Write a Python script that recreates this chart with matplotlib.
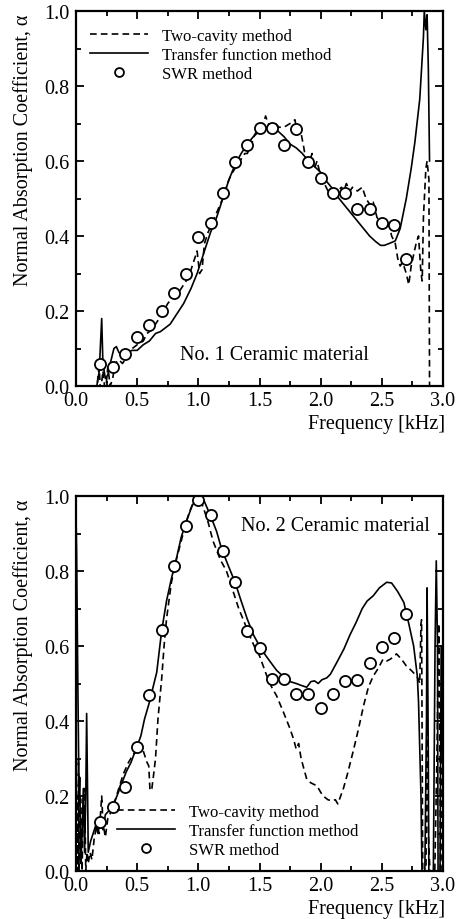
import numpy as np
import matplotlib
matplotlib.use("Agg")
import matplotlib.pyplot as plt
from matplotlib.ticker import MultipleLocator, FormatStrFormatter

plt.rcParams["font.family"] = ["Liberation Serif", "DejaVu Serif"]
plt.rcParams["mathtext.fontset"] = "stix"

# ----------------------------------------------------------------------
# No. 1 ceramic material
# ----------------------------------------------------------------------
swr1_f = [0.2, 0.3, 0.4, 0.5, 0.6, 0.7, 0.8, 0.9, 1.0, 1.1, 1.2, 1.3, 1.4,
          1.5, 1.6, 1.7, 1.8, 1.9, 2.0, 2.1, 2.2, 2.3, 2.4, 2.5, 2.6, 2.7]
swr1_a = [0.059, 0.05, 0.085, 0.131, 0.163, 0.20, 0.247, 0.30, 0.398, 0.434,
          0.514, 0.598, 0.643, 0.687, 0.687, 0.643, 0.686, 0.598, 0.556,
          0.514, 0.514, 0.472, 0.472, 0.435, 0.43, 0.339]

tf1_f = [0.17, 0.19, 0.21, 0.22, 0.24, 0.26, 0.28, 0.31, 0.33, 0.35, 0.38,
         0.42, 0.46, 0.50, 0.55, 0.60, 0.65, 0.69, 0.73, 0.77, 0.82, 0.88,
         0.94, 0.99, 1.04, 1.10, 1.15, 1.20, 1.25, 1.30, 1.35, 1.40, 1.45,
         1.50, 1.55, 1.60, 1.65, 1.70, 1.75, 1.80, 1.85, 1.90, 1.95, 2.00,
         2.05, 2.10, 2.15, 2.20, 2.25, 2.30, 2.35, 2.40, 2.45, 2.49, 2.52,
         2.56, 2.61, 2.65, 2.70, 2.74, 2.77, 2.81, 2.84, 2.847, 2.86, 2.87,
         2.88, 2.89]
tf1_a = [0.0, 0.04, 0.18, 0.06, 0.02, 0.03, 0.06, 0.10, 0.105, 0.09, 0.08,
         0.09, 0.095, 0.095, 0.11, 0.12, 0.14, 0.145, 0.155, 0.165, 0.19, 0.22,
         0.26, 0.30, 0.35, 0.41, 0.45, 0.50, 0.55, 0.59, 0.62, 0.645, 0.665,
         0.68, 0.69, 0.69, 0.68, 0.665, 0.645, 0.635, 0.62, 0.60, 0.585, 0.57,
         0.545, 0.525, 0.50, 0.48, 0.46, 0.44, 0.42, 0.40, 0.385, 0.375, 0.375,
         0.38, 0.387, 0.42, 0.50, 0.58, 0.65, 0.765, 0.93, 1.0, 0.95, 0.99,
         0.85, 0.60]

tc1_f = [0.17, 0.18, 0.19, 0.20, 0.22, 0.24, 0.26, 0.28, 0.30, 0.32, 0.35,
         0.38, 0.40, 0.43, 0.46, 0.50, 0.55, 0.58, 0.62, 0.66, 0.70, 0.75,
         0.80, 0.84, 0.88, 0.92, 0.96, 0.99, 1.01, 1.03, 1.05, 1.08, 1.12,
         1.16, 1.20, 1.25, 1.28, 1.30, 1.34, 1.38, 1.40, 1.43, 1.46, 1.50,
         1.53, 1.55, 1.57, 1.60, 1.63, 1.66, 1.70, 1.75, 1.79, 1.81, 1.83,
         1.86, 1.88, 1.91, 1.93, 1.95, 1.97, 2.00, 2.03, 2.06, 2.10, 2.14,
         2.17, 2.19, 2.21, 2.24, 2.26, 2.30, 2.34, 2.37, 2.41, 2.43, 2.46,
         2.50, 2.53, 2.56, 2.58, 2.61, 2.63, 2.65, 2.67, 2.70, 2.72, 2.74,
         2.76, 2.78, 2.80, 2.82, 2.83, 2.84, 2.86, 2.87, 2.885, 2.89, 2.895]
tc1_a = [-0.02, 0.03, 0.05, -0.02, 0.04, -0.02, 0.05, 0.0, 0.02, 0.06, 0.07,
         0.06, 0.07, 0.08, 0.10, 0.11, 0.12, 0.14, 0.15, 0.17, 0.19, 0.22,
         0.24, 0.25, 0.27, 0.29, 0.33, 0.36, 0.30, 0.31, 0.38, 0.41, 0.44,
         0.47, 0.50, 0.55, 0.57, 0.58, 0.60, 0.62, 0.62, 0.64, 0.67, 0.69,
         0.70, 0.72, 0.70, 0.69, 0.70, 0.69, 0.69, 0.70, 0.71, 0.67, 0.69,
         0.64, 0.60, 0.60, 0.62, 0.58, 0.60, 0.56, 0.54, 0.52, 0.51, 0.52,
         0.53, 0.52, 0.54, 0.52, 0.53, 0.52, 0.53, 0.50, 0.48, 0.49, 0.45,
         0.43, 0.44, 0.43, 0.40, 0.38, 0.34, 0.32, 0.33, 0.30, 0.27, 0.32,
         0.35, 0.38, 0.40, 0.30, 0.28, 0.45, 0.58, 0.60, 0.55, 0.0, -0.05]

# ----------------------------------------------------------------------
# No. 2 ceramic material
# ----------------------------------------------------------------------
swr2_f = [0.2, 0.3, 0.4, 0.5, 0.6, 0.7, 0.8, 0.9, 1.0, 1.1, 1.2, 1.3, 1.4,
          1.5, 1.6, 1.7, 1.8, 1.9, 2.0, 2.1, 2.2, 2.3, 2.4, 2.5, 2.6, 2.7]
swr2_a = [0.131, 0.171, 0.223, 0.33, 0.47, 0.643, 0.814, 0.919, 0.99, 0.949,
          0.854, 0.771, 0.641, 0.596, 0.512, 0.512, 0.472, 0.472, 0.434,
          0.472, 0.507, 0.51, 0.556, 0.598, 0.621, 0.685]

tf2_f = [0.0, 0.005, 0.015, 0.025, 0.03, 0.04, 0.05, 0.06, 0.07, 0.08, 0.087,
         0.095, 0.10, 0.12, 0.14, 0.16, 0.18, 0.20, 0.22, 0.24, 0.28, 0.33,
         0.37, 0.41, 0.45, 0.49, 0.53, 0.56, 0.60, 0.62, 0.66, 0.70, 0.74,
         0.78, 0.82, 0.86, 0.90, 0.95, 1.00, 1.05, 1.10, 1.15, 1.19, 1.25,
         1.30, 1.35, 1.40, 1.45, 1.50, 1.55, 1.59, 1.64, 1.69, 1.75, 1.80,
         1.84, 1.886, 1.92, 1.95, 1.98, 2.01, 2.05, 2.08, 2.13, 2.19, 2.24,
         2.29, 2.34, 2.38, 2.43, 2.48, 2.54, 2.58, 2.63, 2.68, 2.72, 2.76,
         2.79, 2.80, 2.82, 2.83, 2.85, 2.865, 2.87, 2.88, 2.885, 2.92, 2.935,
         2.945, 2.955, 2.96, 2.975, 2.985, 2.995]
tf2_a = [0.95, 0.85, 0.5, 0.2, 0.25, 0.02, 0.1, 0.22, 0.05, 0.2, 0.42,
         0.2, 0.05, 0.08, 0.10, 0.12, 0.10, 0.14, 0.11, 0.15, 0.165, 0.196,
         0.23, 0.264, 0.29, 0.325, 0.36, 0.405, 0.45, 0.477, 0.53, 0.64, 0.72,
         0.78, 0.832, 0.89, 0.93, 0.975, 1.0, 0.985, 0.947, 0.905, 0.859, 0.81,
         0.77, 0.72, 0.672, 0.63, 0.60, 0.575, 0.557, 0.535, 0.52, 0.505, 0.50,
         0.495, 0.49, 0.505, 0.507, 0.50, 0.51, 0.515, 0.525, 0.555, 0.592,
         0.63, 0.663, 0.70, 0.72, 0.734, 0.755, 0.77, 0.768, 0.745, 0.716,
         0.66, 0.60, 0.52, 0.45, 0.2, -0.05, -0.05, 0.4, 0.755, 0.3, -0.05,
         -0.05, 0.6, 0.827, 0.6, -0.05, -0.05, 0.6, 0.3]

tc2_f = [0.0, 0.005, 0.01, 0.015, 0.02, 0.025, 0.03, 0.04, 0.05, 0.06, 0.07,
         0.08, 0.09, 0.10, 0.115, 0.13, 0.15, 0.17, 0.19, 0.21, 0.22, 0.24,
         0.26, 0.305, 0.34, 0.387, 0.43, 0.47, 0.51, 0.55, 0.58, 0.595, 0.605,
         0.62, 0.63, 0.65, 0.67, 0.70, 0.72, 0.74, 0.78, 0.82, 0.86, 0.90,
         0.93, 0.97, 1.00, 1.04, 1.08, 1.12, 1.18, 1.23, 1.28, 1.33, 1.38,
         1.42, 1.47, 1.50, 1.53, 1.56, 1.60, 1.64, 1.70, 1.75, 1.78, 1.80,
         1.82, 1.84, 1.886, 1.92, 1.97, 2.00, 2.02, 2.06, 2.09, 2.12, 2.14,
         2.185, 2.22, 2.27, 2.31, 2.35, 2.39, 2.43, 2.47, 2.51, 2.54, 2.57,
         2.59, 2.62, 2.66, 2.70, 2.74, 2.785, 2.80, 2.81, 2.82, 2.825, 2.83,
         2.835, 2.86, 2.87, 2.88, 2.90, 2.93, 2.95, 2.965, 2.975, 2.98, 2.995]
tc2_a = [0.30, 0.0, 0.2, 0.0, 0.3, 0.0, 0.2, 0.19, 0.0, 0.2, 0.22,
         0.0, 0.05, 0.02, 0.05, 0.03, 0.09, 0.12, 0.10, 0.20, 0.13, 0.09,
         0.14, 0.17, 0.21, 0.259, 0.29, 0.312, 0.32, 0.32, 0.29, 0.28, 0.214,
         0.22, 0.245, 0.30, 0.405, 0.512, 0.60, 0.672, 0.77, 0.83, 0.88, 0.93,
         0.96, 0.99, 1.0, 0.97, 0.93, 0.88, 0.83, 0.80, 0.75, 0.70, 0.66,
         0.627, 0.59, 0.574, 0.547, 0.52, 0.49, 0.467, 0.42, 0.379, 0.35, 0.325,
         0.34, 0.30, 0.245, 0.235, 0.227, 0.21, 0.20, 0.19, 0.187, 0.19, 0.179,
         0.219, 0.26, 0.325, 0.38, 0.44, 0.49, 0.52, 0.54, 0.565, 0.56, 0.565,
         0.57, 0.579, 0.565, 0.547, 0.535, 0.52, 0.51, 0.50, 0.66, 0.67, 0.3,
         -0.05, -0.05, 0.5, 0.1, -0.05, -0.05, 0.3, 0.66, 0.3, -0.05, 0.5]

labels = ["Two-cavity method", "Transfer function method", "SWR method"]
LABEL_FS = 14.5
LEGEND_FS = 12


def style_axes(ax):
    ax.set_xlim(0.0, 3.0)
    ax.set_ylim(0.0, 1.0)
    ax.xaxis.set_major_locator(MultipleLocator(0.5))
    ax.xaxis.set_minor_locator(MultipleLocator(0.25))
    ax.yaxis.set_major_locator(MultipleLocator(0.2))
    ax.yaxis.set_minor_locator(MultipleLocator(0.1))
    ax.xaxis.set_major_formatter(FormatStrFormatter("%.1f"))
    ax.yaxis.set_major_formatter(FormatStrFormatter("%.1f"))
    ax.tick_params(which="both", direction="in", top=True, right=True,
                   width=1.3, labelsize=LABEL_FS)
    ax.tick_params(which="major", length=6)
    ax.tick_params(which="minor", length=3.5)
    ax.tick_params(axis="x", pad=3.8)
    ax.tick_params(axis="y", pad=5)
    for sp in ax.spines.values():
        sp.set_linewidth(1.6)
    ax.text(-0.145, 0.632, "Normal Absorption Coefficient, α",
            transform=ax.transAxes, rotation=90, ha="center", va="center",
            fontsize=LABEL_FS)
    ax.text(1.005, -0.1, "Frequency [kHz]", transform=ax.transAxes,
            ha="right", va="center", fontsize=LABEL_FS)


def draw_panel(ax, tc_f, tc_a, tf_f, tf_a, sw_f, sw_a):
    ax.plot(tc_f, tc_a, color="black", lw=1.2, ls=(0, (4, 2.5)),
            label=labels[0])
    ax.plot(tf_f, tf_a, color="black", lw=1.2, label=labels[1])
    ax.plot(sw_f, sw_a, ls="none", marker="o", ms=8, mfc="white",
            mec="black", mew=1.3, label=labels[2])
    style_axes(ax)


fig = plt.figure(figsize=(4.65, 9.2), dpi=100)
W, H = 465.0, 920.0
ax1 = fig.add_axes([76 / W, 1 - 387 / H, 367 / W, 375 / H])
ax2 = fig.add_axes([76 / W, 1 - 872 / H, 367 / W, 375 / H])

draw_panel(ax1, tc1_f, tc1_a, tf1_f, tf1_a, swr1_f, swr1_a)
draw_panel(ax2, tc2_f, tc2_a, tf2_f, tf2_a, swr2_f, swr2_a)

ax1.text(0.85, 0.085, "No. 1 Ceramic material", ha="left", va="center",
         fontsize=LABEL_FS)
ax2.text(1.346, 0.921, "No. 2 Ceramic material", ha="left", va="center",
         fontsize=LABEL_FS)

leg_kw = dict(fontsize=LEGEND_FS, frameon=False, loc="upper left",
              handlelength=3.5, handletextpad=0.8, labelspacing=0.18,
              borderpad=0, borderaxespad=0, markerscale=0.8)
ax1.legend(bbox_to_anchor=(0.038, 0.954), **leg_kw)
ax2.legend(bbox_to_anchor=(0.112, 0.179), **leg_kw)

fig.savefig("out.png", dpi=100)
